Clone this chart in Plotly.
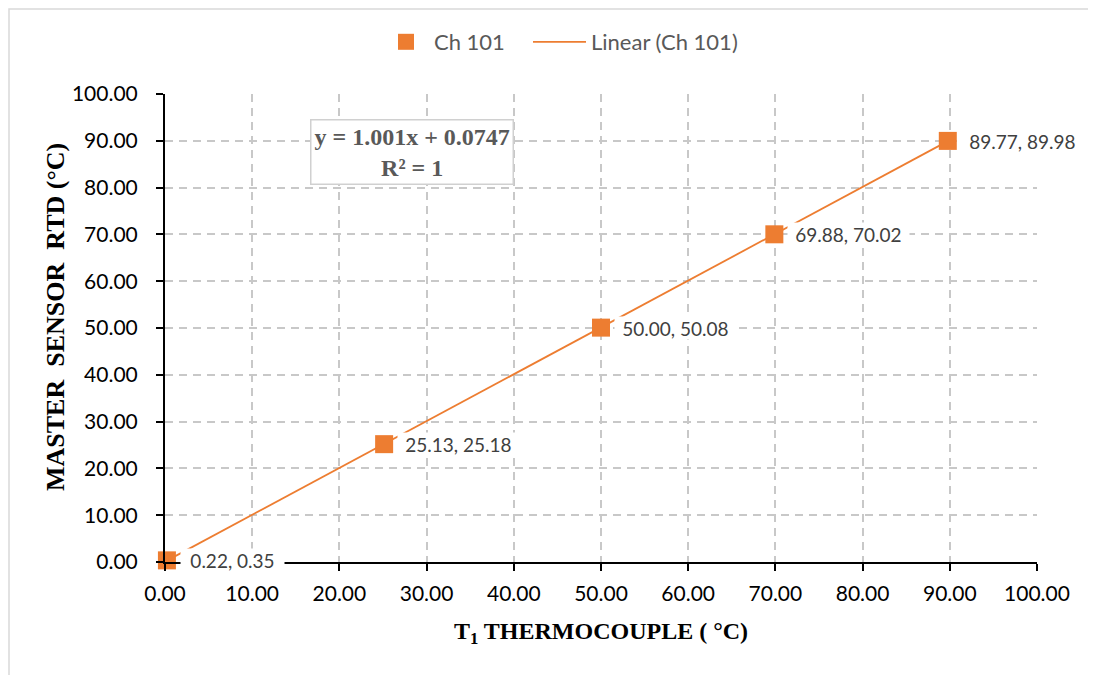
import numpy as np
import plotly.graph_objects as go

# ---- data ----
t1_thermocouple = [0.22, 25.13, 50.00, 69.88, 89.77]
master_rtd = [0.35, 25.18, 50.08, 70.02, 89.98]
series_name = "Ch 101"
trend_name = "Linear (Ch 101)"
equation_text = "<b>y = 1.001x + 0.0747<br>R² = 1</b>"
x_title = "<b>T<sub>1</sub> THERMOCOUPLE ( °C)</b>"
y_title = "<b>MASTER&nbsp; SENSOR&nbsp; RTD (°C)</b>"
tick_vals = [0, 10, 20, 30, 40, 50, 60, 70, 80, 90, 100]
tick_text = [f"{v:.2f}" for v in tick_vals]

ORANGE = "#ED7D31"
OFF = 8  # browser body margin
W, H = 1096 - OFF, 675 - OFF
PL, PR, PT, PB = 165, 1037, 94, 562  # plot area in screen px
L, T = PL - OFF, PT - OFF
R, B = W - (PR - OFF), H - (PB - OFF)
pw, ph = PR - PL, PB - PT

def sx(px):  # screen x -> paper
    return (px - PL) / pw

def sy(py):  # screen y -> paper
    return (PB - py) / ph

# linear trendline over data range
slope, intercept = np.polyfit(t1_thermocouple, master_rtd, 1)
tx = [min(t1_thermocouple), max(t1_thermocouple)]
ty = [slope * v + intercept for v in tx]

fig = go.Figure()
fig.add_trace(go.Scatter(
    x=tx, y=ty, mode="lines", name=trend_name, legend="legend2",
    line=dict(color=ORANGE, width=1.8),
))
fig.add_trace(go.Scatter(
    x=t1_thermocouple, y=master_rtd, mode="markers", name=series_name, legend="legend",
    marker=dict(symbol="square", size=18, color=ORANGE),
    cliponaxis=False,
))

label_font = dict(family="Lato, 'Open Sans', sans-serif", size=19, color="#404040")
for xv, yv in zip(t1_thermocouple, master_rtd):
    txt = f"{xv:.2f}, {yv:.2f}"
    fig.add_annotation(
        x=xv, y=yv, xref="x", yref="y", text=txt,
        showarrow=False, xanchor="left", yanchor="middle", xshift=13,
        width=len(txt) * 8.9 + 14, height=22, align="center", valign="middle",
        bgcolor="white", borderpad=0, font=label_font,
    )

fig.add_annotation(
    x=sx(412), y=sy(152), xref="paper", yref="paper",
    xanchor="center", yanchor="middle",
    text=equation_text, showarrow=False, align="center",
    font=dict(family="'Liberation Serif', 'Times New Roman', serif", size=24, color="#595959"),
    bgcolor="white", bordercolor="#d0d0d0", borderwidth=1.5, borderpad=3,
)

serif = "'Liberation Serif', 'Times New Roman', serif"
# y-axis title (placed as rotated text to match position)
fig.add_annotation(
    x=sx(55), y=sy(317), xref="paper", yref="paper",
    xanchor="center", yanchor="middle", textangle=-90,
    text=y_title, showarrow=False,
    font=dict(family=serif, size=26, color="black"),
)

# outer chart frame
fig.add_shape(
    type="rect", xref="paper", yref="paper",
    x0=sx(OFF + 1), x1=sx(1110), y0=sy(690), y1=sy(OFF + 1),
    line=dict(color="#d9d9d9", width=1.5), fillcolor="rgba(0,0,0,0)", layer="below",
)

axis_common = dict(
    range=[0, 100], tickvals=tick_vals, ticktext=tick_text,
    showgrid=True, gridcolor="#c8c8c8", griddash="8px,6px", gridwidth=1.5,
    showline=True, linecolor="black", linewidth=2,
    ticks="outside", ticklen=7, tickwidth=2, tickcolor="black",
    tickfont=dict(family="Lato, 'Open Sans', sans-serif", size=21, color="black"),
    zeroline=False, fixedrange=True,
)

legend_font = dict(family="Lato, 'Open Sans', sans-serif", size=22, color="#595959")
fig.update_layout(
    width=W, height=H,
    margin=dict(l=L, r=R, t=T, b=B, autoexpand=False),
    paper_bgcolor="white", plot_bgcolor="white",
    xaxis=dict(
        **axis_common,
        title=dict(text=x_title, standoff=18,
                   font=dict(family=serif, size=24, color="black")),
        ticklabelstandoff=5,
    ),
    yaxis=dict(
        **axis_common,
        ticklabelstandoff=14,
    ),
    legend=dict(
        orientation="h", x=sx(378), xanchor="left", y=sy(42), yanchor="middle",
        font=legend_font, itemwidth=46, bgcolor="rgba(0,0,0,0)",
    ),
    legend2=dict(
        orientation="h", x=sx(528), xanchor="left", y=sy(42), yanchor="middle",
        font=legend_font, itemwidth=53, bgcolor="rgba(0,0,0,0)",
    ),
    showlegend=True,
)

fig.write_html("out.html")
